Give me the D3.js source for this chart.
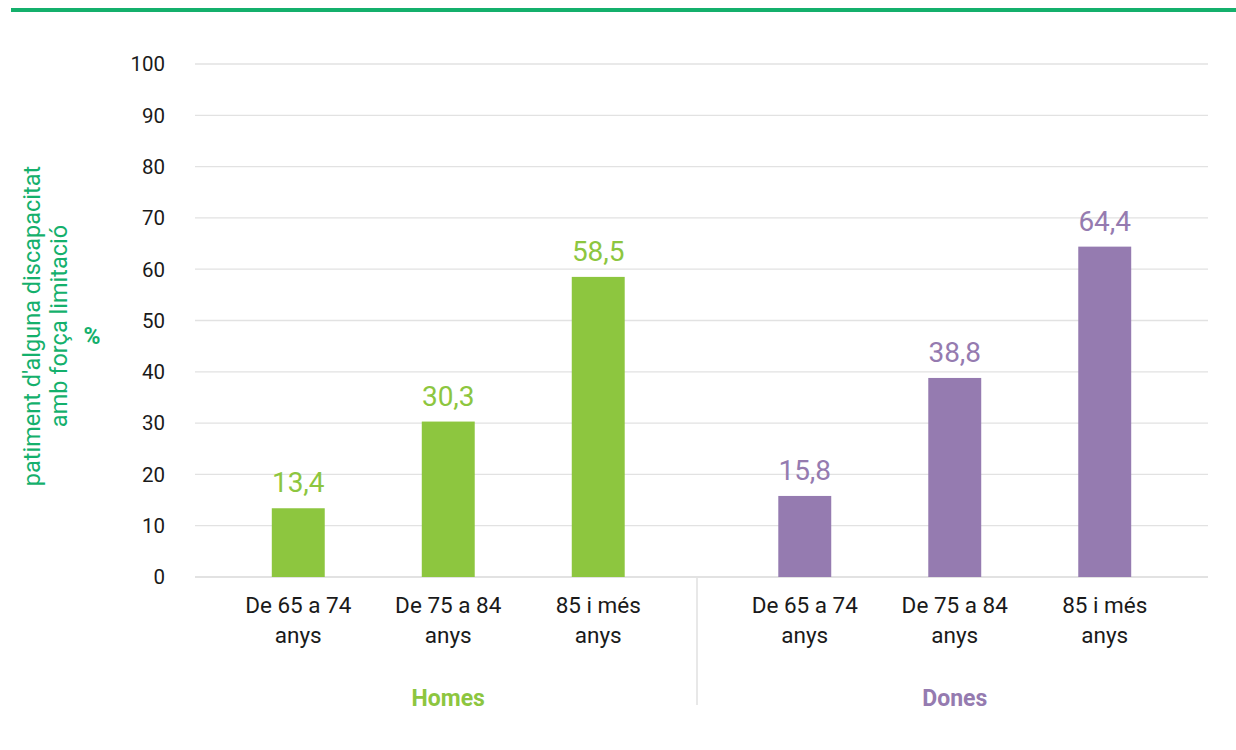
<!DOCTYPE html>
<html>
<head>
<meta charset="utf-8">
<script src="https://cdn.jsdelivr.net/npm/d3@7"></script>
<style>
  body { margin: 0; background: #fff; }
  svg text { font-family: Roboto, "Noto Sans", sans-serif; }
</style>
</head>
<body>
<svg id="chart" width="1236" height="750"></svg>
<script>
(function () {
    "use strict";

    var groups = ["Homes", "Dones"];
    var ageGroups = [["De 65 a 74", "anys"], ["De 75 a 84", "anys"], ["85 i més", "anys"]];
    var homesValues = [13.4, 30.3, 58.5];
    var donesValues = [15.8, 38.8, 64.4];
    var yTicks = [0, 10, 20, 30, 40, 50, 60, 70, 80, 90, 100];
    var groupColors = { Homes: "#8dc63f", Dones: "#957bb0" };
    var titleLines = ["patiment d'alguna discapacitat", "amb força limitació"];

    var svg = d3.select("#chart");
    var left = 195, right = 1208, top = 64, bottom = 577;

    // top rule
    svg.append("rect")
        .attr("x", 11).attr("y", 8)
        .attr("width", 1236 - 11).attr("height", 4)
        .attr("fill", "#14b06c");

    var y = d3.scaleLinear().domain([0, 100]).range([bottom, top]);
    var x0 = d3.scaleBand().domain(groups).range([left, right]);
    var x1 = d3.scaleBand().domain(d3.range(ageGroups.length))
        .range([0, x0.bandwidth()])
        .paddingInner(0.647).paddingOuter(0.512);

    // grid lines
    svg.append("g").selectAll("line")
        .data(yTicks)
        .join("line")
        .attr("x1", left).attr("x2", right)
        .attr("y1", function (d) { return y(d); })
        .attr("y2", function (d) { return y(d); })
        .attr("stroke", "#e2e2e2")
        .attr("stroke-width", function (d) { return d === 0 ? 2 : 1.3; });

    // y tick labels
    svg.append("g").selectAll("text")
        .data(yTicks)
        .join("text")
        .attr("x", 165)
        .attr("y", function (d) { return y(d); })
        .attr("dy", "0.36em")
        .attr("text-anchor", "end")
        .attr("font-size", 20.5)
        .attr("fill", "#1a1a1a")
        .text(function (d) { return d; });

    // group divider
    svg.append("line")
        .attr("x1", 697).attr("x2", 697)
        .attr("y1", bottom + 1).attr("y2", 705)
        .attr("stroke", "#dcdcdc").attr("stroke-width", 1.3);

    var series = [
        { group: "Homes", values: homesValues },
        { group: "Dones", values: donesValues }
    ];
    var fmt = function (v) { return d3.format(".1f")(v).replace(".", ","); };

    series.forEach(function (s) {
        var g = svg.append("g").attr("transform", "translate(" + x0(s.group) + ",0)");
        var color = groupColors[s.group];

        g.selectAll("rect")
            .data(s.values)
            .join("rect")
            .attr("x", function (d, i) { return x1(i); })
            .attr("width", x1.bandwidth())
            .attr("y", function (d) { return y(d); })
            .attr("height", function (d) { return y(0) - y(d); })
            .attr("fill", color);

        g.selectAll("text.value")
            .data(s.values)
            .join("text")
            .attr("class", "value")
            .attr("x", function (d, i) { return x1(i) + x1.bandwidth() / 2; })
            .attr("y", function (d) { return y(d) - 16; })
            .attr("text-anchor", "middle")
            .attr("font-size", 28)
            .attr("fill", color)
            .text(fmt);

        var cat = g.selectAll("text.cat")
            .data(ageGroups)
            .join("text")
            .attr("class", "cat")
            .attr("text-anchor", "middle")
            .attr("font-size", 22.5)
            .attr("fill", "#1a1a1a");
        cat.each(function (lines, i) {
            var t = d3.select(this);
            lines.forEach(function (line, k) {
                t.append("tspan")
                    .attr("x", x1(i) + x1.bandwidth() / 2)
                    .attr("y", 613 + k * 30)
                    .text(line);
            });
        });

        g.append("text")
            .attr("x", x0.bandwidth() / 2)
            .attr("y", 706)
            .attr("text-anchor", "middle")
            .attr("font-size", 23)
            .attr("font-weight", "bold")
            .attr("fill", color)
            .text(s.group);
    });

    // y axis title
    var title = svg.append("g").attr("transform", "translate(0,326) rotate(-90)");
    titleLines.forEach(function (line, k) {
        title.append("text")
            .attr("x", 0)
            .attr("y", 40 + k * 27)
            .attr("text-anchor", "middle")
            .attr("font-size", 23.5)
            .attr("fill", "#14b06c")
            .text(line);
    });
    // upright "%" beside the rotated title
    svg.append("text")
        .attr("x", 92)
        .attr("y", 344)
        .attr("text-anchor", "middle")
        .attr("font-size", 23)
        .attr("font-weight", "bold")
        .attr("fill", "#14b06c")
        .text("%");
})();
</script>
</body>
</html>
